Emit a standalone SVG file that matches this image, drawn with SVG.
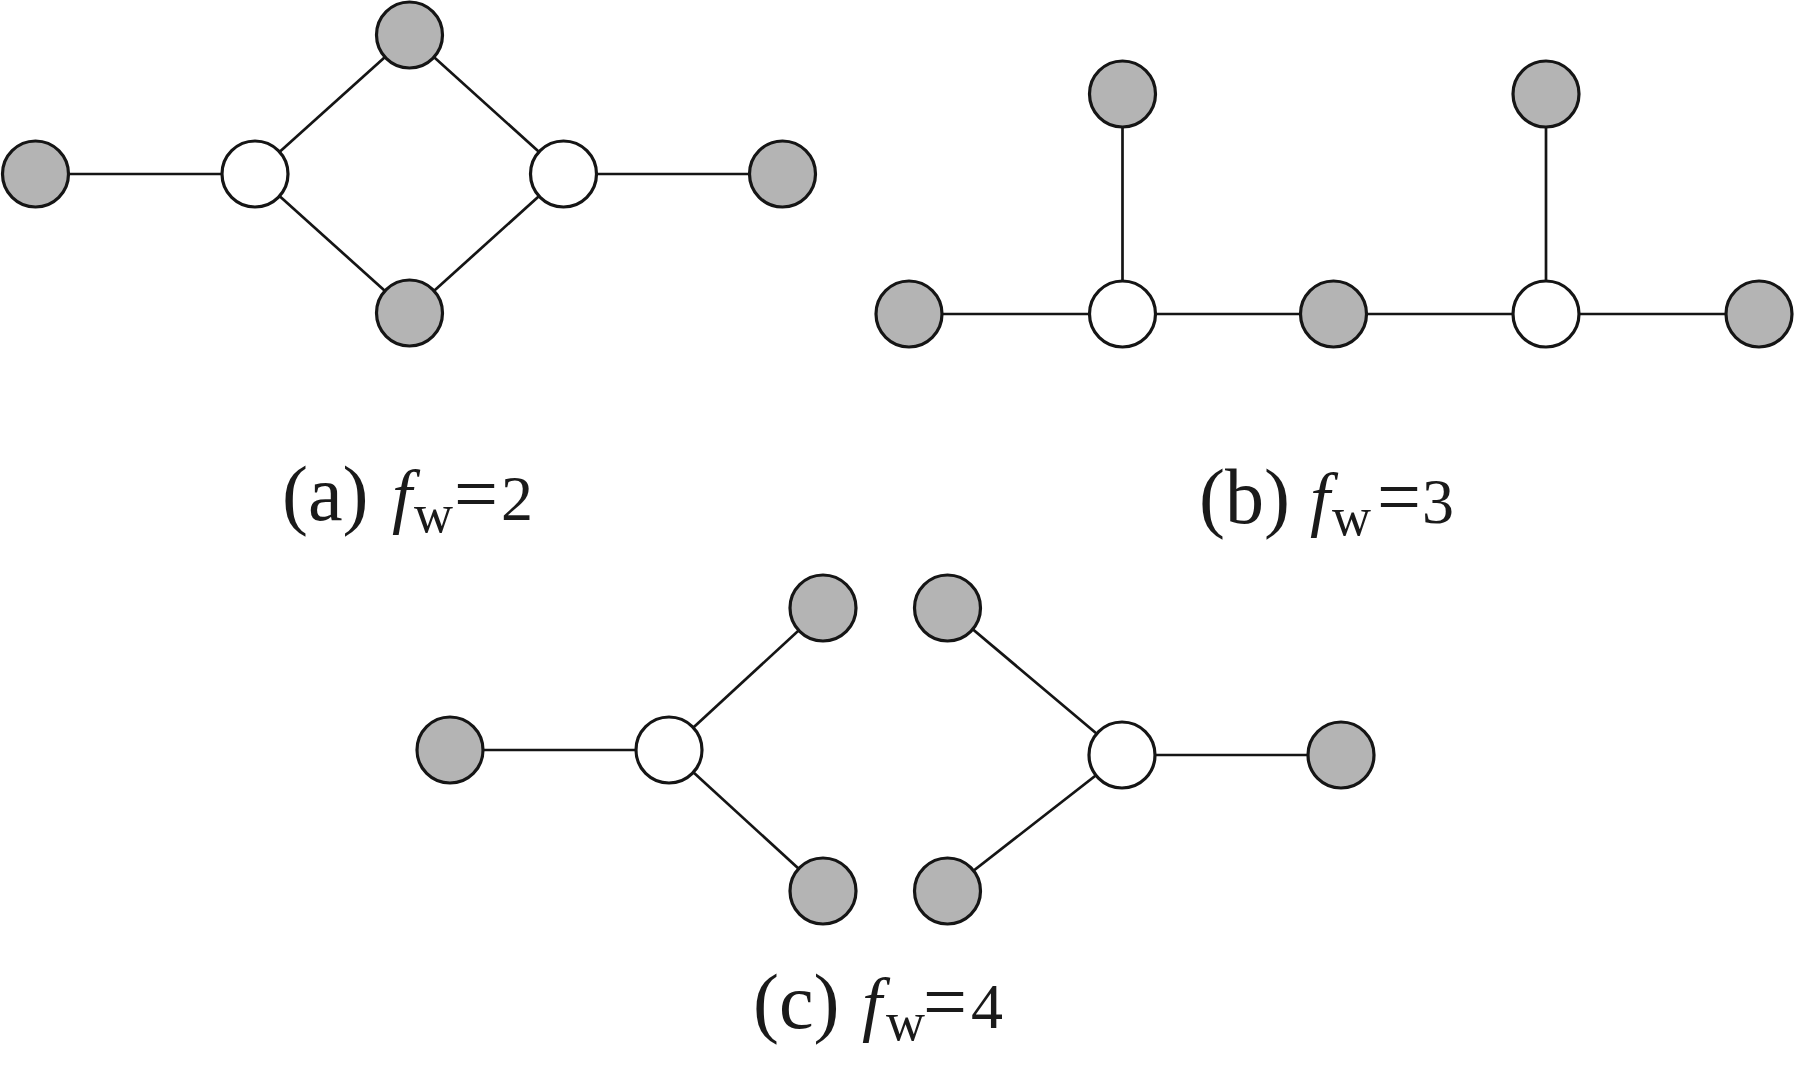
<svg xmlns="http://www.w3.org/2000/svg" width="1794" height="1070" viewBox="0 0 1794 1070">
<style>
.g{fill:#b4b4b4;stroke:#151515;stroke-width:3.2}
.w{fill:#ffffff;stroke:#151515;stroke-width:3.2}
.e{stroke:#151515;stroke-width:2.7;fill:none}
.t{font-family:"Liberation Serif","Times New Roman",serif;fill:#1a1a1a}
.i{font-size:72px;font-style:italic}
.s{font-size:54px}
.q{font-size:78px}
.d{font-size:64px}
</style>
<rect width="1794" height="1070" fill="#ffffff"/>
<g id="connectors">
<line class="e" x1="35.5" y1="174" x2="255" y2="174"/>
<line class="e" x1="255" y1="174" x2="409.5" y2="35"/>
<line class="e" x1="255" y1="174" x2="409.5" y2="313"/>
<line class="e" x1="409.5" y1="35" x2="563.5" y2="174"/>
<line class="e" x1="409.5" y1="313" x2="563.5" y2="174"/>
<line class="e" x1="563.5" y1="174" x2="782.5" y2="174"/>
<line class="e" x1="909" y1="314" x2="1759" y2="314"/>
<line class="e" x1="1122.5" y1="94" x2="1122.5" y2="314"/>
<line class="e" x1="1546" y1="94" x2="1546" y2="314"/>
<line class="e" x1="450" y1="750" x2="669" y2="750"/>
<line class="e" x1="669" y1="750" x2="823" y2="608"/>
<line class="e" x1="669" y1="750" x2="823" y2="891"/>
<line class="e" x1="947.5" y1="608" x2="1122" y2="755"/>
<line class="e" x1="947.5" y1="891" x2="1122" y2="755"/>
<line class="e" x1="1122" y1="755" x2="1341" y2="755"/>
</g>
<g id="a-n1"><circle class="g" cx="35.5" cy="174" r="33"/></g>
<g id="a-n2"><circle class="w" cx="255" cy="174" r="33"/></g>
<g id="a-n3"><circle class="g" cx="409.5" cy="35" r="33"/></g>
<g id="a-n4"><circle class="g" cx="409.5" cy="313" r="33"/></g>
<g id="a-n5"><circle class="w" cx="563.5" cy="174" r="33"/></g>
<g id="a-n6"><circle class="g" cx="782.5" cy="174" r="33"/></g>
<g id="b-n1"><circle class="g" cx="909" cy="314" r="33"/></g>
<g id="b-n2"><circle class="w" cx="1122.5" cy="314" r="33"/></g>
<g id="b-n3"><circle class="g" cx="1333.5" cy="314" r="33"/></g>
<g id="b-n4"><circle class="w" cx="1546" cy="314" r="33"/></g>
<g id="b-n5"><circle class="g" cx="1759" cy="314" r="33"/></g>
<g id="b-n6"><circle class="g" cx="1122.5" cy="94" r="33"/></g>
<g id="b-n7"><circle class="g" cx="1546" cy="94" r="33"/></g>
<g id="c-n1"><circle class="g" cx="450" cy="750" r="33"/></g>
<g id="c-n2"><circle class="w" cx="669" cy="750" r="33"/></g>
<g id="c-n3"><circle class="g" cx="823" cy="608" r="33"/></g>
<g id="c-n4"><circle class="g" cx="823" cy="891" r="33"/></g>
<g id="c-n5"><circle class="g" cx="947.5" cy="608" r="33"/></g>
<g id="c-n6"><circle class="g" cx="947.5" cy="891" r="33"/></g>
<g id="c-n7"><circle class="w" cx="1122" cy="755" r="33"/></g>
<g id="c-n8"><circle class="g" cx="1341" cy="755" r="33"/></g>
<g id="label-a" class="t">
<text class="q" x="282" y="520">(a)</text>
<text class="i" x="392" y="520">f</text>
<text class="s" x="414" y="532">w</text>
<text class="q" x="454" y="520">=</text>
<text class="d" x="501" y="520">2</text>
</g>
<g id="label-b" class="t">
<text class="q" x="1199" y="523">(b)</text>
<text class="i" x="1310" y="523">f</text>
<text class="s" x="1332" y="535">w</text>
<text class="q" x="1377" y="523">=</text>
<text class="d" x="1422" y="523">3</text>
</g>
<g id="label-c" class="t">
<text class="q" x="753" y="1028">(c)</text>
<text class="i" x="862" y="1028">f</text>
<text class="s" x="886" y="1040">w</text>
<text class="q" x="923" y="1028">=</text>
<text class="d" x="971" y="1028">4</text>
</g>
</svg>
